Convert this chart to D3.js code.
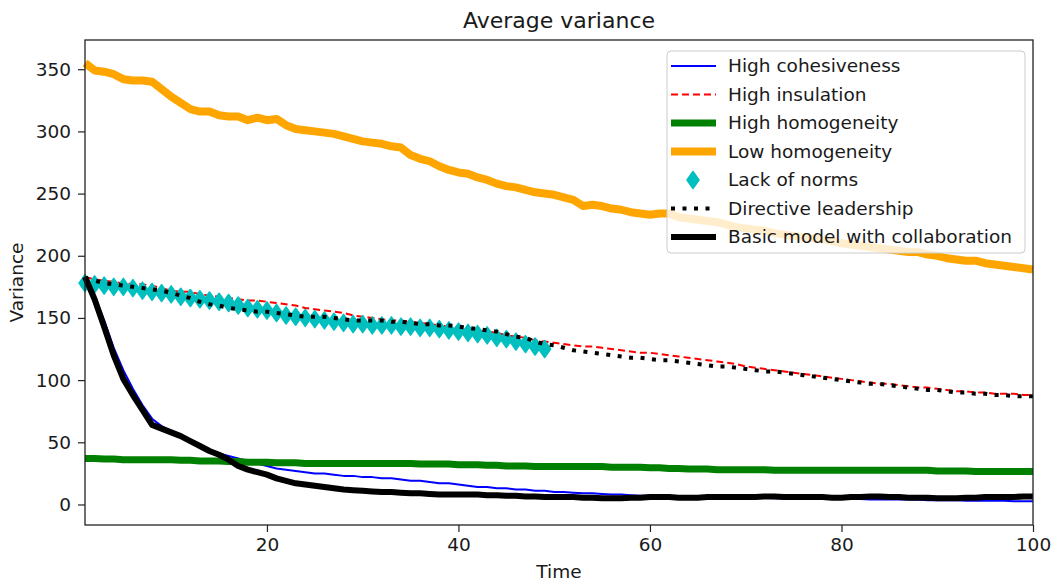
<!DOCTYPE html>
<html>
<head>
<meta charset="utf-8">
<script src="https://cdn.jsdelivr.net/npm/d3@7"></script>
<style>
  body { margin: 0; background: #fff; }
  text { font-family: "DejaVu Sans", sans-serif; fill: #1a1a1a; }
</style>
</head>
<body>
<svg id="chart"></svg>
<script>
// time steps 1..100
const time = d3.range(1, 101);

const highCohesiveness = [
  183, 168, 148, 126, 108, 93, 80, 69, 63, 59,
  55, 51, 47, 44, 41, 39, 37, 35, 33, 31,
  29, 28, 27, 26, 25, 25, 24, 23, 23, 22,
  22, 21, 21, 20, 19, 19, 18, 17, 17, 16,
  15, 14, 14, 13, 13, 12, 12, 11, 11, 10,
  10, 9.5, 9, 9, 8.5, 8, 8, 7.5, 7, 7,
  6.5, 6.5, 6.5, 6, 6, 6, 6, 6, 5.5, 5.5,
  5.5, 5.5, 5, 5, 5, 5, 5, 4.5, 4.5, 4.5,
  4.5, 4.5, 4, 4, 4, 4, 4, 4, 3.5, 3.5,
  3.5, 3.5, 3, 3, 3, 3, 3, 2.5, 2.5, 2.5
];

const highInsulation = [
  183, 181, 180, 179, 178, 177, 177, 176, 174, 172,
  171, 171, 169, 168, 167, 166, 165, 164, 164, 163,
  162, 161, 160, 158, 157, 156, 155, 154, 152, 151,
  150, 149, 148, 148, 147, 146, 145, 144, 143, 142,
  141, 140, 139, 138, 136, 135, 134, 132, 131, 130,
  129, 128, 127, 127, 126, 125, 124, 123, 122, 122,
  121, 120, 119, 118, 117, 116, 115, 114, 113, 111,
  110, 109, 108, 107, 106, 105, 104, 103, 102, 101,
  100, 99, 98, 97, 97, 96, 95, 94, 94, 93,
  92, 91, 91, 90, 90, 89, 89, 89, 88, 88
];

const highHomogeneity = [
  37, 37, 36.5, 36.5, 36, 36, 36, 36, 36, 36,
  35.5, 35.5, 35, 35, 35, 34.5, 34.5, 34, 34, 34,
  33.5, 33.5, 33.5, 33, 33, 33, 33, 33, 33, 33,
  33, 33, 33, 33, 33, 32.5, 32.5, 32.5, 32.5, 32,
  32, 32, 31.5, 31.5, 31, 31, 31, 30.5, 30.5, 30.5,
  30.5, 30.5, 30.5, 30.5, 30.5, 30, 30, 30, 30, 29.5,
  29.5, 29, 29, 28.5, 28.5, 28.5, 28, 28, 28, 28,
  28, 28, 27.5, 27.5, 27.5, 27.5, 27.5, 27.5, 27.5, 27.5,
  27.5, 27.5, 27.5, 27.5, 27.5, 27.5, 27.5, 27.5, 27.5, 27,
  27, 27, 27, 26.5, 26.5, 26.5, 26.5, 26.5, 26.5, 26.5
];

const lowHomogeneity = [
  355, 349, 348, 346, 342, 341, 341, 340, 334, 328,
  323, 318, 316, 316, 313, 312, 312, 309, 311, 309,
  310, 305, 302, 301, 300, 299, 298, 296, 294, 292,
  291, 290, 288, 287, 281, 278, 276, 272, 269, 267,
  266, 263, 261, 258, 256, 255, 253, 251, 250, 249,
  247, 245, 240, 241, 240, 238, 237, 235, 234, 233,
  234, 234, 231, 230, 229, 228, 227, 225, 223, 222,
  221, 220, 218, 217, 216, 215, 214, 213, 212, 210,
  209, 208, 207, 206, 205, 204, 203, 203, 201, 200,
  198, 197, 196, 196, 194, 193, 192, 191, 190, 189
];

// only measured for the first 49 steps
const lackOfNorms = [
  178, 177, 176, 175, 175, 174, 172, 171, 170, 169,
  167, 166, 165, 164, 163, 162, 160, 158, 157, 156,
  154, 152, 151, 150, 149, 148, 147, 146, 145, 145,
  144, 144, 144, 143, 143, 142, 142, 141, 140, 139,
  138, 137, 136, 134, 133, 131, 129, 127, 125
];

const directiveLeadership = [
  182, 180, 178, 177, 176, 175, 174, 173, 172, 170,
  168, 166, 163, 161, 160, 158, 157, 156, 155, 155,
  154, 153, 152, 151, 151, 151, 150, 149, 148, 148,
  148, 148, 147, 147, 146, 145, 145, 144, 144, 143,
  142, 141, 140, 139, 137, 135, 134, 131, 129, 128,
  126, 124, 123, 122, 121, 120, 119, 118, 118, 117,
  116, 116, 115, 114, 113, 112, 111, 111, 110, 109,
  108, 107, 107, 106, 105, 104, 103, 102, 101, 100,
  99, 98, 97, 97, 96, 95, 94, 93, 92, 92,
  91, 90, 90, 89, 89, 88, 88, 87, 87, 87
];

const basicModel = [
  183, 165, 143, 120, 101, 88, 76, 64, 61, 58,
  55, 51, 47, 43, 40, 36, 31, 28, 26, 24,
  21, 19, 17, 16, 15, 14, 13, 12, 11.5, 11,
  10.5, 10, 10, 9.5, 9, 9, 8.5, 8, 8, 8,
  8, 8, 7.5, 7.5, 7, 7, 6.5, 6.5, 6, 6,
  6, 6, 5.5, 5.5, 5, 5, 5, 5.5, 5.5, 6,
  6, 6, 5.5, 5.5, 5.5, 6, 6, 6, 6, 6,
  6, 6.5, 6.5, 6, 6, 6, 6, 6, 5.5, 5.5,
  6, 6, 6.5, 6.5, 6, 6, 5.5, 5.5, 5.5, 5,
  5, 5, 5.5, 5.5, 6, 6, 6, 6, 6.5, 6.5
];

const seriesNames = ["High cohesiveness", "High insulation", "High homogeneity", "Low homogeneity",
  "Lack of norms", "Directive leadership", "Basic model with collaboration"];
const xTicks = [20, 40, 60, 80, 100];
const yTicks = [0, 50, 100, 150, 200, 250, 300, 350];

const width = 1054, height = 585;
const margin = { top: 40, right: 21, bottom: 60, left: 85 };

const svg = d3.select("#chart").attr("width", width).attr("height", height);

const x = d3.scaleLinear().domain([1, 100]).range([margin.left, width - margin.right]);
const y = d3.scaleLinear().domain([-16.5, 373.5]).range([height - margin.bottom, margin.top]);

const line = d3.line().x((d, i) => x(time[i])).y(d => y(d));

const styles = [
  { data: highCohesiveness, color: "#0000ff", w: 2 },
  { data: highInsulation, color: "#ff0000", w: 2, dash: "7,4" },
  { data: highHomogeneity, color: "#008000", w: 7 },
  { data: lowHomogeneity, color: "#ffa500", w: 8 },
  { data: lackOfNorms, color: "#00bfbf", marker: true },
  { data: directiveLeadership, color: "#000000", w: 4, dash: "4,7.5" },
  { data: basicModel, color: "#000000", w: 6 }
];

// thin diamond, like matplotlib's 'd'
const diamond = "M0,-8.5L6,0L0,8.5L-6,0Z";

const plot = svg.append("g");
styles.forEach(s => {
  if (s.marker) {
    plot.append("g").selectAll("path")
      .data(s.data)
      .enter().append("path")
      .attr("d", diamond)
      .attr("transform", (d, i) => `translate(${x(time[i])},${y(d)})`)
      .attr("fill", s.color)
      .attr("stroke", s.color).attr("stroke-width", 1.5).attr("stroke-linejoin", "round");
  } else {
    plot.append("path")
      .datum(s.data)
      .attr("d", line)
      .attr("fill", "none")
      .attr("stroke", s.color)
      .attr("stroke-width", s.w)
      .attr("stroke-dasharray", s.dash || null)
      .attr("stroke-linejoin", "round")
      .attr("stroke-linecap", "butt");
  }
});

// axes frame
svg.append("rect")
  .attr("x", margin.left).attr("y", margin.top)
  .attr("width", width - margin.left - margin.right)
  .attr("height", height - margin.top - margin.bottom)
  .attr("fill", "none").attr("stroke", "#222").attr("stroke-width", 1.3);

const xAxis = svg.append("g")
  .attr("transform", `translate(0,${height - margin.bottom})`)
  .call(d3.axisBottom(x).tickValues(xTicks).tickSize(7).tickPadding(6).tickSizeOuter(0));
const yAxis = svg.append("g")
  .attr("transform", `translate(${margin.left},0)`)
  .call(d3.axisLeft(y).tickValues(yTicks).tickSize(7).tickPadding(7).tickSizeOuter(0));
[xAxis, yAxis].forEach(a => {
  a.select(".domain").remove();
  a.selectAll("line").attr("stroke", "#222").attr("stroke-width", 1.2);
  a.selectAll("text").style("font-size", "18.5px").attr("fill", "#1a1a1a")
    .style("font-family", "DejaVu Sans, sans-serif");
});

svg.append("text")
  .attr("x", (margin.left + width - margin.right) / 2).attr("y", 28)
  .attr("text-anchor", "middle").style("font-size", "22px")
  .text("Average variance");

svg.append("text")
  .attr("x", (margin.left + width - margin.right) / 2).attr("y", 578)
  .attr("text-anchor", "middle").style("font-size", "18.5px")
  .text("Time");

svg.append("text")
  .attr("transform", `translate(23,${(margin.top + height - margin.bottom) / 2}) rotate(-90)`)
  .attr("text-anchor", "middle").style("font-size", "18.5px")
  .text("Variance");

// legend
const legend = svg.append("g").attr("transform", "translate(667,51)");
legend.append("rect")
  .attr("width", 358).attr("height", 202).attr("rx", 4)
  .attr("fill", "white").attr("fill-opacity", 0.8)
  .attr("stroke", "#cccccc").attr("stroke-width", 1);

styles.forEach((s, i) => {
  const row = legend.append("g").attr("transform", `translate(0,${15 + i * 28.5})`);
  if (s.marker) {
    row.append("path").attr("d", diamond)
      .attr("transform", "translate(26,0)")
      .attr("fill", s.color)
      .attr("stroke", s.color).attr("stroke-width", 1.5).attr("stroke-linejoin", "round");
  } else {
    row.append("line")
      .attr("x1", 4).attr("x2", 49)
      .attr("stroke", s.color).attr("stroke-width", s.w)
      .attr("stroke-dasharray", s.dash || null);
  }
  row.append("text")
    .attr("x", 61).attr("dy", "0.35em")
    .style("font-size", "18.5px")
    .text(seriesNames[i]);
});
</script>
</body>
</html>
